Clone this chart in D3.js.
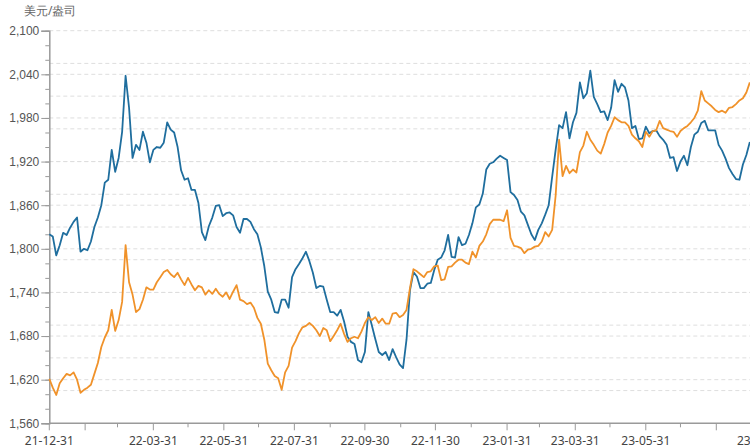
<!DOCTYPE html>
<html>
<head>
<meta charset="utf-8">
<script src="https://cdn.jsdelivr.net/npm/d3@7"></script>
<style>
  body { margin: 0; background: #fff; }
  svg { display: block; font-family: "Noto Sans", "Open Sans", sans-serif; }
</style>
</head>
<body>
<div id="chart"></div>
<script>
var startDay = "21-12-31";
var stepDays = 3;
var blueValues = [
  1820, 1817, 1791, 1805, 1822, 1819, 1829, 1837, 1843, 1796,
  1800, 1798, 1810, 1830, 1843, 1860, 1891, 1895, 1936, 1906,
  1925, 1961, 2038, 1994, 1925, 1943, 1936, 1961, 1946, 1919,
  1936, 1940, 1939, 1946, 1974, 1964, 1960, 1940, 1908, 1895,
  1897, 1881, 1881, 1863, 1823, 1812, 1831, 1843, 1859, 1860,
  1845, 1849, 1850, 1846, 1830, 1822, 1841, 1841, 1837, 1827,
  1820, 1802, 1776, 1741, 1730, 1713, 1712, 1730, 1730, 1719,
  1761, 1772, 1779, 1787, 1796, 1783, 1767, 1746, 1749, 1748,
  1730, 1713, 1713, 1708, 1716, 1700, 1679, 1672, 1669, 1647,
  1644, 1658, 1713, 1695, 1676, 1658, 1654, 1658, 1647, 1662,
  1651, 1641, 1636, 1675, 1743, 1768, 1762, 1746, 1746, 1752,
  1753, 1771, 1785, 1788, 1798, 1819, 1789, 1788, 1816, 1805,
  1807, 1819, 1835, 1857, 1861, 1876, 1909, 1917, 1919, 1924,
  1928, 1925, 1922, 1878, 1874, 1867, 1851, 1846, 1833, 1820,
  1812, 1826, 1835, 1847, 1860, 1899, 1936, 1970, 1966, 1988,
  1952, 1974, 1987, 2029, 2007, 2014, 2045, 2009, 1999, 1988,
  1989, 1977, 1994, 2032, 2016, 2027, 2022, 2004, 1966, 1969,
  1951, 1952, 1968, 1959, 1962, 1963, 1955, 1950, 1943, 1925,
  1926, 1907, 1920, 1928, 1915, 1940, 1957, 1961, 1973, 1976,
  1963, 1963, 1963, 1943, 1935, 1924, 1911, 1903, 1896, 1895,
  1916, 1929, 1947
];
var orangeValues = [
  1621, 1609, 1599, 1615, 1622, 1628, 1626, 1630, 1620, 1602,
  1606, 1609, 1613, 1628, 1643, 1665, 1678, 1688, 1716, 1687,
  1702, 1727, 1805, 1754, 1737, 1713, 1717, 1730, 1747, 1744,
  1744, 1754, 1761, 1768, 1771, 1765, 1761, 1767, 1758, 1750,
  1760, 1751, 1743, 1749, 1747, 1737, 1743, 1738, 1745, 1738,
  1734, 1740, 1731, 1741, 1750, 1730, 1728, 1724, 1726, 1719,
  1705, 1697, 1675, 1642, 1633, 1625, 1622, 1606, 1630, 1639,
  1664, 1673, 1684, 1692, 1694, 1698, 1694, 1688, 1680, 1691,
  1688, 1673, 1680, 1688, 1697, 1683, 1672, 1677, 1679, 1677,
  1686, 1698, 1706, 1702, 1706, 1698, 1704, 1697, 1697, 1711,
  1712, 1706, 1709, 1716, 1746, 1772, 1769, 1765, 1761, 1768,
  1769, 1776, 1777, 1757, 1758, 1775, 1776, 1781, 1785, 1785,
  1781, 1779, 1796, 1788, 1804, 1810, 1820, 1834, 1840, 1840,
  1840, 1838, 1853, 1815, 1804, 1803, 1801, 1794, 1799, 1800,
  1803, 1804, 1810, 1823, 1817, 1826, 1873, 1950, 1900, 1914,
  1904, 1909, 1905, 1933, 1942, 1961, 1950, 1943, 1935, 1931,
  1944, 1960, 1969, 1981, 1977, 1974, 1974, 1969, 1957, 1952,
  1948, 1940, 1961, 1954, 1962, 1963, 1976, 1966, 1964, 1962,
  1961, 1954, 1962, 1966, 1969, 1974, 1980, 1990, 2017, 2004,
  2000, 1996, 1991, 1988, 1990, 1987, 1994, 1995, 1999, 2004,
  2007, 2015, 2029
];
var yTicks = [1560, 1620, 1680, 1740, 1800, 1860, 1920, 1980, 2040, 2100];
var xLabels = ["21-12-31", "22-03-31", "22-05-31", "22-07-31", "22-09-30",
               "22-11-30", "23-01-31", "23-03-31", "23-05-31", "23-09-08"];
var unitLabel = "美元/盎司";
var seriesColors = ["#1f6e9e", "#f0922a"];

(function() {
    var width = 750, height = 448;
    var left = 49.3, top = 30.7, bottom = 423.3;
    var parse = d3.timeParse("%y-%m-%d");
    var start = parse(startDay);
    var end = parse(xLabels[xLabels.length - 1]);
    var dates = blueValues.map((d, i) => d3.timeDay.offset(start, i * stepDays));

    var svg = d3.select('#chart')
        .append('svg')
        .attr('width', width)
        .attr('height', height);

    var x = d3.scaleTime()
        .domain([start, end])
        .range([left, left + 1.156 * d3.timeDay.count(start, end)]);

    var y = d3.scaleLinear()
        .domain([yTicks[0], yTicks[yTicks.length - 1]])
        .range([bottom, top]);

    // second (hidden) value axis, only its grid shows
    var y2 = d3.scaleLinear().domain([0, 12]).range([bottom, top]);

    // grid lines
    var grid = svg.append('g');
    grid.selectAll('line.g1')
        .data(yTicks.slice(1))
        .join('line')
        .attr('class', 'g1')
        .attr('x1', left).attr('x2', width)
        .attr('y1', d => y(d)).attr('y2', d => y(d));
    grid.selectAll('line.g2')
        .data(d3.range(1, 12))
        .join('line')
        .attr('class', 'g2')
        .attr('x1', left).attr('x2', width)
        .attr('y1', d => y2(d)).attr('y2', d => y2(d));
    grid.selectAll('line')
        .attr('stroke', '#dedede')
        .attr('stroke-width', 1)
        .attr('stroke-dasharray', '4,3');

    // y axis minor ticks
    svg.append('g')
        .attr('transform', `translate(${left},0)`)
        .call(d3.axisLeft(y).tickValues(d3.range(1560, 2101, 20)).tickSize(4).tickFormat(''))
        .call(g => g.select('.domain').remove())
        .selectAll('line').attr('stroke', '#9a9a9a');

    // y axis
    svg.append('g')
        .attr('transform', `translate(${left},0)`)
        .call(d3.axisLeft(y).tickValues(yTicks).tickSize(8).tickPadding(2).tickFormat(d3.format(',')))
        .call(g => g.select('.domain').attr('stroke', '#9a9a9a').attr('stroke-width', 1.5))
        .call(g => g.selectAll('line').attr('stroke', '#9a9a9a'))
        .call(g => g.selectAll('text').attr('fill', '#555').attr('font-size', '12px'));

    // month-end ticks on x
    var monthEnds = d3.timeMonth.range(new Date(2022, 0, 1), new Date(2023, 8, 2))
        .map(d => d3.timeDay.offset(d, -1));
    var xg = svg.append('g').attr('transform', `translate(0,${bottom})`);
    xg.append('line')
        .attr('x1', left).attr('x2', width)
        .attr('stroke', '#9a9a9a').attr('stroke-width', 1.5);
    xg.selectAll('line.tick')
        .data(monthEnds)
        .join('line')
        .attr('class', 'tick')
        .attr('x1', d => x(d)).attr('x2', d => x(d))
        .attr('y1', 0)
        .attr('y2', (d, i) => (i === 0 || d.getMonth() % 2 === 0) ? 7 : 4)
        .attr('stroke', '#9a9a9a');
    xg.selectAll('text')
        .data(xLabels)
        .join('text')
        .attr('x', d => x(parse(d)))
        .attr('y', 22)
        .attr('text-anchor', 'middle')
        .attr('fill', '#444')
        .attr('font-size', '12px')
        .text(d => d);

    // unit label
    svg.append('text')
        .attr('x', 24).attr('y', 15)
        .attr('fill', '#666')
        .attr('font-size', '12px')
        .text(unitLabel);

    // lines
    var line = d3.line()
        .x((d, i) => x(dates[i]))
        .y(d => y(d));
    [blueValues, orangeValues].forEach((vals, j) => {
        svg.append('path')
            .datum(vals)
            .attr('fill', 'none')
            .attr('stroke', seriesColors[j])
            .attr('stroke-width', 1.8)
            .attr('stroke-linejoin', 'round')
            .attr('d', line);
    });
})();
</script>
</body>
</html>
